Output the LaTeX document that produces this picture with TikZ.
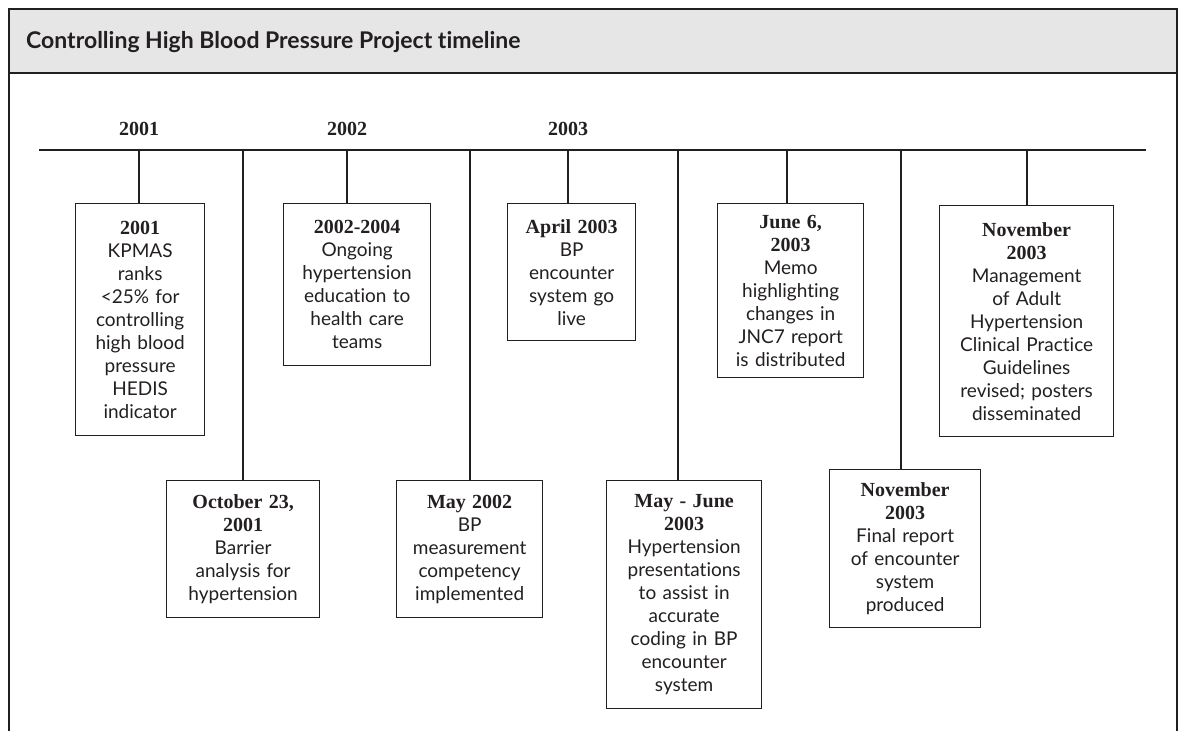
\documentclass[tikz,border=0pt]{standalone}
\usepackage{fontspec}
\setmainfont{Lato}[Ligatures=NoCommon]
\newfontfamily\evheadfont{Liberation Serif}
\definecolor{ink}{HTML}{231F20}
\definecolor{band}{HTML}{E6E6E6}
\newcommand\evhead[1]{{\evheadfont\bfseries\fontsize{20}{23}\selectfont #1}}
\begin{document}
\begin{tikzpicture}[x=1pt,y=-1pt,
  evbox/.style={draw=ink, line width=1.3pt, align=center, inner sep=0pt, anchor=north west,
    font=\fontsize{19}{23}\selectfont, text=ink},
  link/.style={draw=ink, line width=1.3pt},
  yearlbl/.style={font=\evheadfont\bfseries\fontsize{20}{23}\selectfont, anchor=base, text=ink}]
\useasboundingbox (0,0) rectangle (1181,731);
% frame and title band
\fill[band] (9,9) rectangle (1177,73);
\draw[ink, line width=1.3pt] (9,731) -- (9,9) -- (1177,9) -- (1177,731);
\draw[ink, line width=1.3pt] (9,73) -- (1177,73);
\node[anchor=base west, inner sep=0pt, text=ink, font=\bfseries\fontsize{23}{27}\selectfont] (title) at (26,48) {Controlling High Blood Pressure Project timeline};
% timeline
\coordinate (tl0) at (39,150);
\coordinate (tl1) at (1146,150);
\draw[ink, line width=2pt] (tl0) -- (tl1);
\node[yearlbl] (y1) at (139,135) {2001};
\node[yearlbl] (y2) at (347,135) {2002};
\node[yearlbl] (y3) at (568,135) {2003};
% boxes
\node[evbox, minimum width=129pt, minimum height=232pt, text width=125pt] (b1) at (75,203)
  {\evhead{2001}\\KPMAS\\ranks\\<25\% for\\controlling\\high blood\\pressure\\HEDIS\\indicator};
\node[evbox, minimum width=153pt, minimum height=137pt, text width=149pt] (b2) at (166,480)
  {\evhead{October 23,}\\\evhead{2001}\\Barrier\\analysis for\\hypertension};
\node[evbox, minimum width=147pt, minimum height=162pt, text width=143pt] (b3) at (283,203)
  {\evhead{2002-2004}\\Ongoing\\hypertension\\education to\\health care\\teams};
\node[evbox, minimum width=146pt, minimum height=137pt, text width=142pt] (b4) at (396,480)
  {\evhead{May 2002}\\BP\\measurement\\competency\\implemented};
\node[evbox, minimum width=128pt, minimum height=137pt, text width=124pt] (b5) at (507,203)
  {\evhead{April 2003}\\BP\\encounter\\system go\\live};
\node[evbox, minimum width=155pt, minimum height=228pt, text width=151pt] (b6) at (606,480)
  {\evhead{May - June}\\\evhead{2003}\\Hypertension\\presentations\\to assist in\\accurate\\coding in BP\\encounter\\system};
\node[evbox, minimum width=146pt, minimum height=174pt, text width=142pt] (b7) at (717,203)
  {\evhead{June 6,}\\\evhead{2003}\\Memo\\highlighting\\changes in\\JNC7 report\\is distributed};
\node[evbox, minimum width=151pt, minimum height=158pt, text width=147pt] (b8) at (829,469)
  {\evhead{November}\\\evhead{2003}\\Final report\\of encounter\\system\\produced};
\node[evbox, minimum width=174pt, minimum height=231pt, text width=170pt] (b9) at (939,205)
  {\evhead{November}\\\evhead{2003}\\Management\\of Adult\\Hypertension\\Clinical Practice\\Guidelines\\revised; posters\\disseminated};
% ticks
\coordinate (t1) at (139,150);
\coordinate (t2) at (243,150);
\coordinate (t3) at (347,150);
\coordinate (t4) at (470,150);
\coordinate (t5) at (568,150);
\coordinate (t6) at (678,150);
\coordinate (t7) at (787,150);
\coordinate (t8) at (901,150);
\coordinate (t9) at (1027,150);
\draw[link] (t1) -- (t1 |- b1.north);
\draw[link] (t2) -- (t2 |- b2.north);
\draw[link] (t3) -- (t3 |- b3.north);
\draw[link] (t4) -- (t4 |- b4.north);
\draw[link] (t5) -- (t5 |- b5.north);
\draw[link] (t6) -- (t6 |- b6.north);
\draw[link] (t7) -- (t7 |- b7.north);
\draw[link] (t8) -- (t8 |- b8.north);
\draw[link] (t9) -- (t9 |- b9.north);
\end{tikzpicture}
\end{document}
